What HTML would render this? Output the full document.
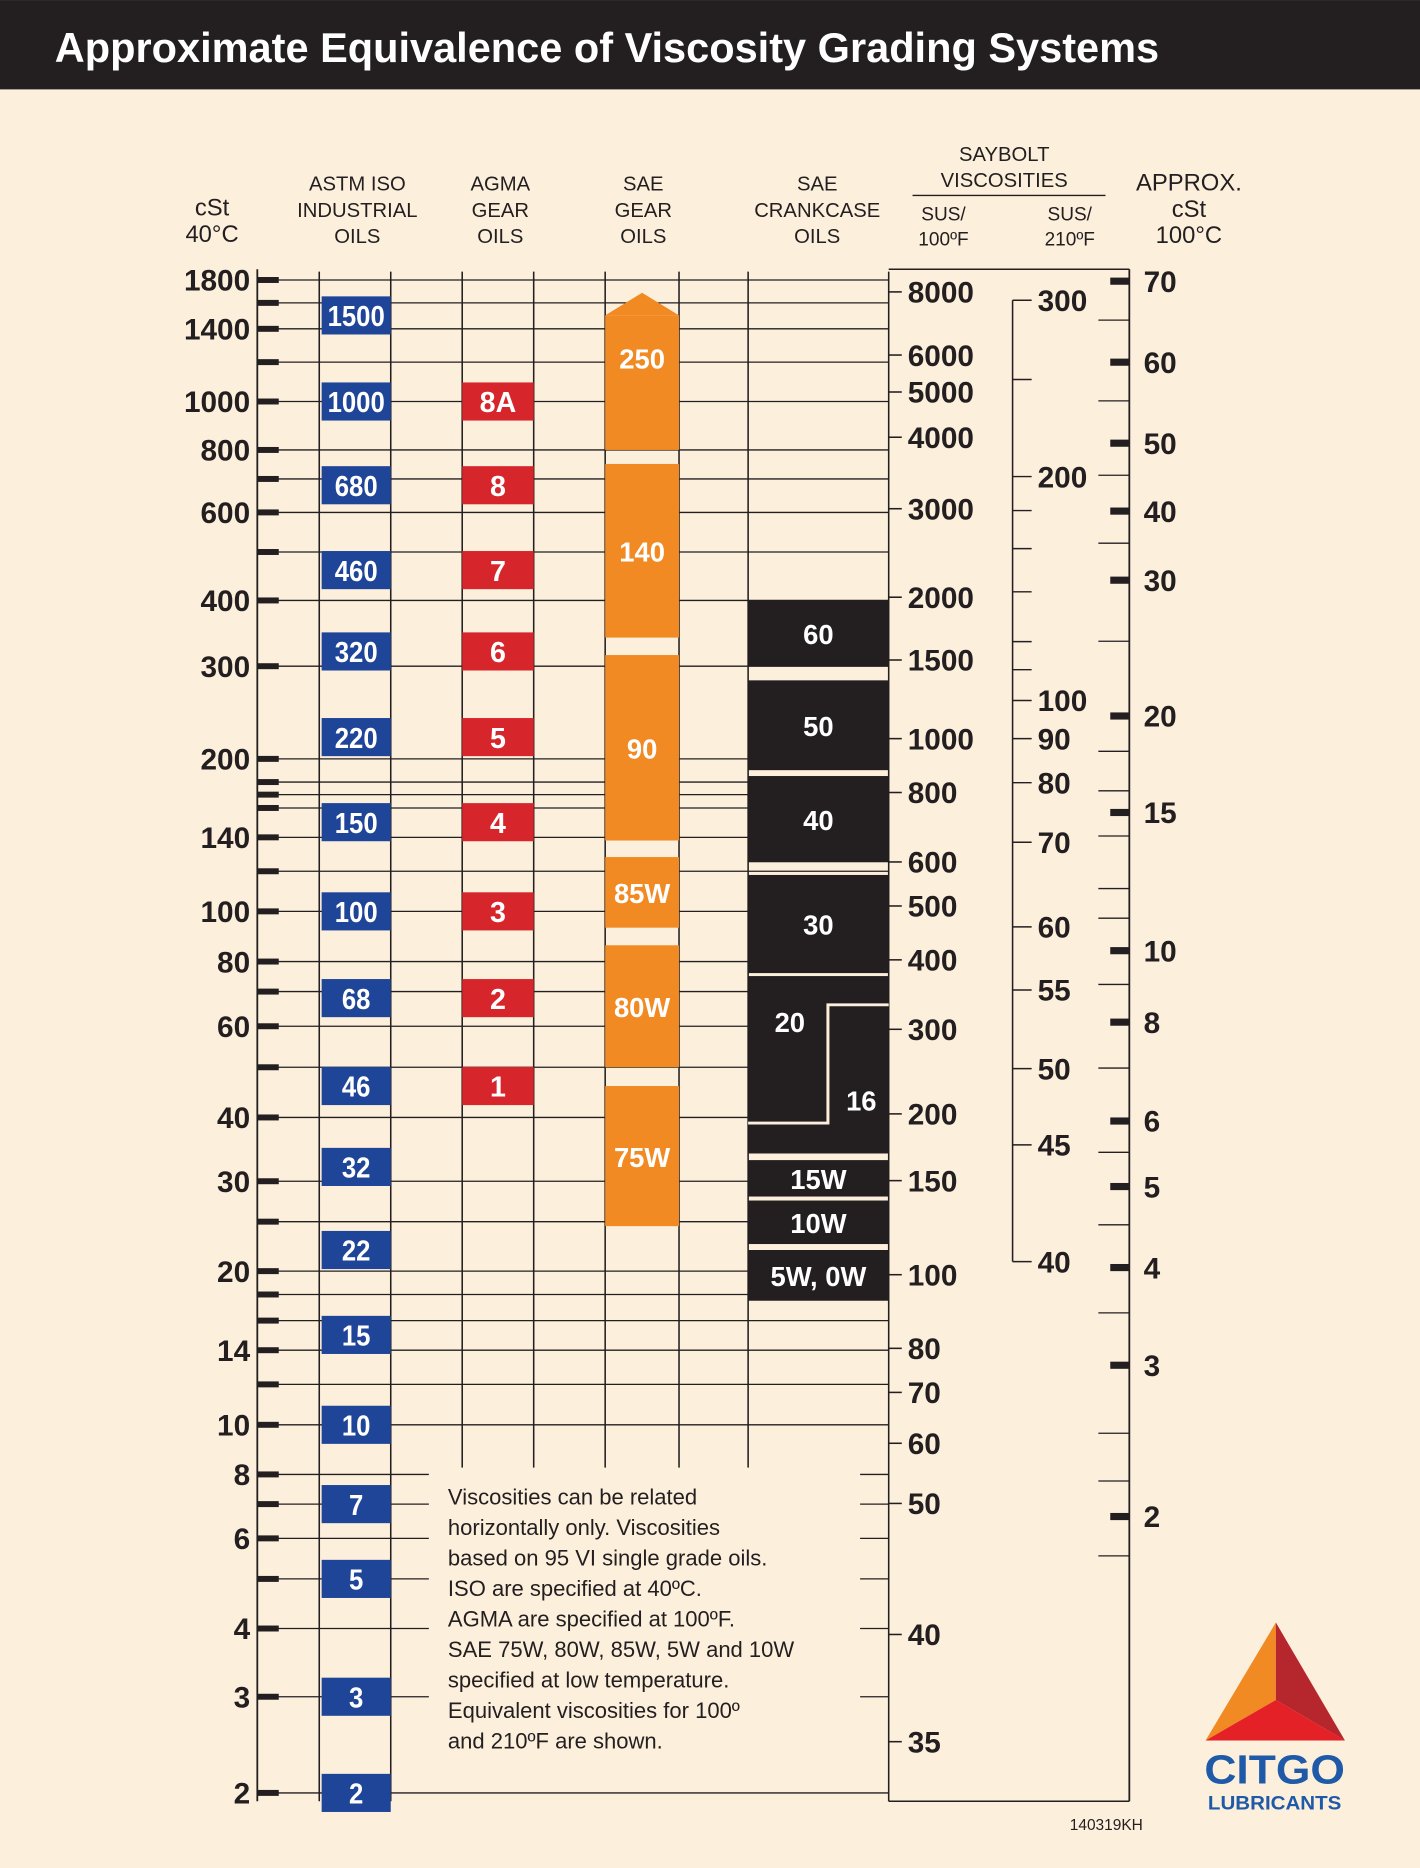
<!DOCTYPE html>
<html><head><meta charset="utf-8"><style>
html,body{margin:0;padding:0;background:#fcefdc}
svg{display:block}
text{font-family:"Liberation Sans",sans-serif}
</style></head><body>
<svg id="chart" width="1420" height="1868" viewBox="0 0 1192 1568" xmlns="http://www.w3.org/2000/svg">
<rect x="0" y="0" width="1192" height="1568" fill="#fcefdc"/>
<rect x="0" y="0" width="1192" height="75" fill="#231f20"/>
<text x="46" y="52" fill="#fff" font-size="35" font-weight="bold" textLength="927" lengthAdjust="spacingAndGlyphs">Approximate Equivalence of Viscosity Grading Systems</text>
<g id="headers" fill="#231f20" font-size="17" text-anchor="middle">
<text x="178" y="181" font-size="20"><tspan x="178">cSt</tspan><tspan x="178" dy="22">40°C</tspan></text>
<text x="300" y="160"><tspan x="300">ASTM ISO</tspan><tspan x="300" dy="22">INDUSTRIAL</tspan><tspan x="300" dy="22">OILS</tspan></text>
<text x="420" y="160"><tspan x="420">AGMA</tspan><tspan x="420" dy="22">GEAR</tspan><tspan x="420" dy="22">OILS</tspan></text>
<text x="540" y="160"><tspan x="540">SAE</tspan><tspan x="540" dy="22">GEAR</tspan><tspan x="540" dy="22">OILS</tspan></text>
<text x="686" y="160"><tspan x="686">SAE</tspan><tspan x="686" dy="22">CRANKCASE</tspan><tspan x="686" dy="22">OILS</tspan></text>
<text x="843" y="135"><tspan x="843">SAYBOLT</tspan><tspan x="843" dy="22">VISCOSITIES</tspan></text>
<line x1="766" y1="164" x2="928" y2="164" stroke="#231f20" stroke-width="1.2"/>
<text x="792" y="185" font-size="16"><tspan x="792">SUS/</tspan><tspan x="792" dy="21">100ºF</tspan></text>
<text x="898" y="185" font-size="16"><tspan x="898">SUS/</tspan><tspan x="898" dy="21">210ºF</tspan></text>
<text x="998" y="160" font-size="20"><tspan x="998">APPROX.</tspan><tspan x="998" dy="22">cSt</tspan><tspan x="998" dy="22">100°C</tspan></text>
</g>
<g id="grid"></g>
<g id="marks"></g>
<g id="axes"></g>
<rect x="360" y="1232" width="362" height="255" fill="#fcefdc"/>
<text x="376" y="1263" font-size="18.5" fill="#231f20">
<tspan x="376">Viscosities can be related</tspan>
<tspan x="376" dy="25.6">horizontally only. Viscosities</tspan>
<tspan x="376" dy="25.6">based on 95 VI single grade oils.</tspan>
<tspan x="376" dy="25.6">ISO are specified at 40ºC.</tspan>
<tspan x="376" dy="25.6">AGMA are specified at 100ºF.</tspan>
<tspan x="376" dy="25.6">SAE 75W, 80W, 85W, 5W and 10W</tspan>
<tspan x="376" dy="25.6">specified at low temperature.</tspan>
<tspan x="376" dy="25.6">Equivalent viscosities for 100º</tspan>
<tspan x="376" dy="25.6">and 210ºF are shown.</tspan>
</text>
<g>
<polygon points="1071,1362 1012,1461 1071,1427" fill="#f28a24"/>
<polygon points="1071,1362 1129,1461 1071,1427" fill="#b5262d"/>
<polygon points="1012,1461 1129,1461 1071,1427" fill="#e42127"/>
<text x="1070" y="1497" font-size="34" font-weight="bold" fill="#1f5aa8" text-anchor="middle" textLength="118" lengthAdjust="spacingAndGlyphs">CITGO</text>
<text x="1070" y="1519" font-size="16" font-weight="bold" fill="#1f5aa8" text-anchor="middle" textLength="112" lengthAdjust="spacingAndGlyphs">LUBRICANTS</text>
</g>
<text x="898" y="1536" font-size="13" fill="#231f20">140319KH</text>
</svg>
<script>
// ---- data ----
const cstTicks=[1800,1400,1000,800,600,400,300,200,140,100,80,60,40,30,20,14,10,8,6,4,3,2];
const cstMinor=[1600,1200,700,500,180,170,160,120,70,50,25,18,16,12,7,5];
const isoGrades=[1500,1000,680,460,320,220,150,100,68,46,32,22,15,10,7,5,3,2];
const agmaLabels=["8A","8","7","6","5","4","3","2","1"];
const agmaValues=[1000,680,460,320,220,150,100,68,46];
const gearLabels=["250","140","90","85W","80W","75W"];
const gearTop=[1500,750,315,128,86,46];
const gearBottom=[800,340,138,93,50,24.5];
const crankLabels=["60","50","40","30","","15W","10W","5W, 0W"];
const crankTop=[400,282,185,118,75,33,27.5,22];
const crankBottom=[300,190,125,76,34,28,22.6,17.5];
const sus100Ticks=[8000,6000,5000,4000,3000,2000,1500,1000,800,600,500,400,300,200,150,100,80,70,60,50,40,35];
const sus210Ticks=[300,200,100,90,80,70,60,55,50,45,40];
const sus210Minor=[250,180,160,140,120,110];
const cst100Ticks=[70,60,50,40,30,20,15,10,8,6,5,4,3,2];
const cst100Minor=[65,55,45,35,25,18,16,14,12,11,9,7,5.5,4.5,3.5,2.5,2.2,1.8];

// ---- axis functions (log scales, calibrated knots) ----
function logInterp(knots,v){
  const lv=Math.log10(v);
  for(let i=0;i<knots.length-1;i++){
    const a=knots[i],b=knots[i+1];
    const la=Math.log10(a[0]),lb=Math.log10(b[0]);
    if(i===knots.length-2||lv<=lb){return a[1]+(lv-la)/(lb-la)*(b[1]-a[1]);}
  }
}
const yCst=v=>logInterp([[2,1505],[4,1367],[10,1196],[40,938],[100,765],[200,637],[400,504],[1000,337],[1400,276],[1800,235]],v);
const ySus100=v=>logInterp([[35,1462],[40,1372],[50,1262],[100,1070],[200,935],[300,864],[1000,620],[1500,554],[3000,427],[4000,367],[6000,298],[8000,245]],v);
const ySus210=v=>logInterp([[40,1059],[45,961],[50,897],[55,831],[60,778],[70,707],[80,657],[90,620],[100,588],[200,400],[300,252]],v);
const yC100=v=>logInterp([[2,1273],[3,1146],[4,1064],[5,996],[6,941],[8,858],[10,798],[15,682],[20,601],[30,487],[40,429],[50,372],[60,304],[70,236]],v);

const NS="http://www.w3.org/2000/svg";
function mk(parent,tag,attrs,txt){const e=document.createElementNS(NS,tag);for(const k in attrs)e.setAttribute(k,attrs[k]);if(txt!==undefined)e.textContent=txt;parent.appendChild(e);return e;}
const grid=document.getElementById('grid'),marks=document.getElementById('marks'),axes=document.getElementById('axes');
const INK="#231f20";

// vertical column lines
[268,328,388,448,508,570,628,746].forEach(x=>{
  const long=(x===268||x===328||x===746);
  const l=mk(grid,'line',{x1:x,y1:228,x2:x,y2:long?1512:1232,stroke:INK,'stroke-width':1.3});
  
  
});
// horizontal grid
cstTicks.concat(cstMinor).forEach(v=>{
  const y=yCst(v);
  const l=mk(grid,'line',{x1:216,y1:y,x2:746,y2:y,stroke:INK,'stroke-width':1.1});
  
  
});
// left axis
let a=mk(axes,'line',{x1:216,y1:226,x2:216,y2:1512,stroke:INK,'stroke-width':1.5});


cstTicks.concat(cstMinor).forEach(v=>{
  const y=yCst(v);
  const t=mk(axes,'rect',{x:216,y:y-2.5,width:18,height:5,fill:INK});
  
  
});
cstTicks.forEach(v=>{
  const t=mk(axes,'text',{x:210,y:yCst(v)+9,'font-size':25,'font-weight':'bold','text-anchor':'end',fill:INK},String(v));
  
  
});
// ISO boxes
isoGrades.forEach(v=>{
  const y=yCst(v);
  const r=mk(marks,'rect',{x:270,y:y-16,width:58,height:32,fill:'#1f4599'});
  
  
  const t=mk(marks,'text',{x:299,y:y+9,'font-size':24,'font-weight':'bold',fill:'#fff','text-anchor':'middle',textLength:String(v).length*12,lengthAdjust:'spacingAndGlyphs'},String(v));
  
  
});
// AGMA boxes
agmaValues.forEach((v,i)=>{
  const y=yCst(v);
  const r=mk(marks,'rect',{x:388,y:y-16,width:60,height:32,fill:'#d7262b'});
  
  
  const t=mk(marks,'text',{x:418,y:y+9,'font-size':24,'font-weight':'bold',fill:'#fff','text-anchor':'middle'},agmaLabels[i]);
  
  
});
// SAE gear bands
gearLabels.forEach((lab,i)=>{
  const y1=yCst(gearTop[i]),y2=yCst(gearBottom[i]);
  const r=mk(marks,'rect',{x:508,y:y1,width:62,height:y2-y1,fill:'#f28a24'});
  
  
  if(i===0){
    const p=mk(marks,'polygon',{points:`508,${y1} 539,${y1-19} 570,${y1}`,fill:'#f28a24'});
    
    
  }
  const ty=i===0?(y1+y2)/2-12:(y1+y2)/2+9;
  const t=mk(marks,'text',{x:539,y:ty,'font-size':23,'font-weight':'bold',fill:'#fff','text-anchor':'middle'},lab);
  
  
});
// crankcase bands
crankLabels.forEach((lab,i)=>{
  const y1=yCst(crankTop[i]),y2=yCst(crankBottom[i]);
  const r=mk(marks,'rect',{x:628,y:y1,width:118,height:y2-y1,fill:INK});
  
  
  if(lab){
    const t=mk(marks,'text',{x:687,y:(y1+y2)/2+9,'font-size':23,'font-weight':'bold',fill:'#fff','text-anchor':'middle'},lab);
    
    
  }
});
// 20 / 16 step
{
  const yA=yCst(66),yB=yCst(39);
  const p=mk(marks,'polyline',{points:`746,${yA} 695,${yA} 695,${yB} 628,${yB}`,fill:'none',stroke:'#fcefdc','stroke-width':2.5});
  
  
  let t=mk(marks,'text',{x:663,y:yCst(70)+34,'font-size':23,'font-weight':'bold',fill:'#fff','text-anchor':'middle'},'20');
  
  
  t=mk(marks,'text',{x:723,y:yCst(44)+12,'font-size':23,'font-weight':'bold',fill:'#fff','text-anchor':'middle'},'16');
  
  
}
// SUS 100F axis
sus100Ticks.forEach(v=>{
  const y=ySus100(v);
  const l=mk(axes,'line',{x1:746,y1:y,x2:757,y2:y,stroke:INK,'stroke-width':1.3});
  
  
  const t=mk(axes,'text',{x:762,y:y+9,'font-size':25,'font-weight':'bold',fill:INK},String(v));
  
  
});
// bottom line + right frame
a=mk(axes,'line',{x1:746,y1:1512,x2:948,y2:1512,stroke:INK,'stroke-width':1.3});


a=mk(axes,'line',{x1:850,y1:ySus210(300),x2:850,y2:ySus210(40),stroke:INK,'stroke-width':1.3});


sus210Ticks.concat(sus210Minor).forEach(v=>{
  const y=ySus210(v);
  const l=mk(axes,'line',{x1:850,y1:y,x2:866,y2:y,stroke:INK,'stroke-width':1.2});
  
  
});
sus210Ticks.forEach(v=>{
  const t=mk(axes,'text',{x:871,y:ySus210(v)+9,'font-size':25,'font-weight':'bold',fill:INK},String(v));
  
  
});
// cSt 100C axis
a=mk(axes,'line',{x1:948,y1:226,x2:948,y2:1512,stroke:INK,'stroke-width':1.5});


a=mk(axes,'line',{x1:746,y1:226,x2:948,y2:226,stroke:INK,'stroke-width':1.2});


cst100Minor.forEach(v=>{
  const y=yC100(v);
  const l=mk(axes,'line',{x1:922,y1:y,x2:948,y2:y,stroke:INK,'stroke-width':1.1});
  
  
});
cst100Ticks.forEach(v=>{
  const y=yC100(v);
  const r=mk(axes,'rect',{x:932,y:y-3,width:16,height:6,fill:INK});
  
  
  const t=mk(axes,'text',{x:960,y:y+9,'font-size':25,'font-weight':'bold',fill:INK},String(v));
  
  
});
</script>
</body></html>
